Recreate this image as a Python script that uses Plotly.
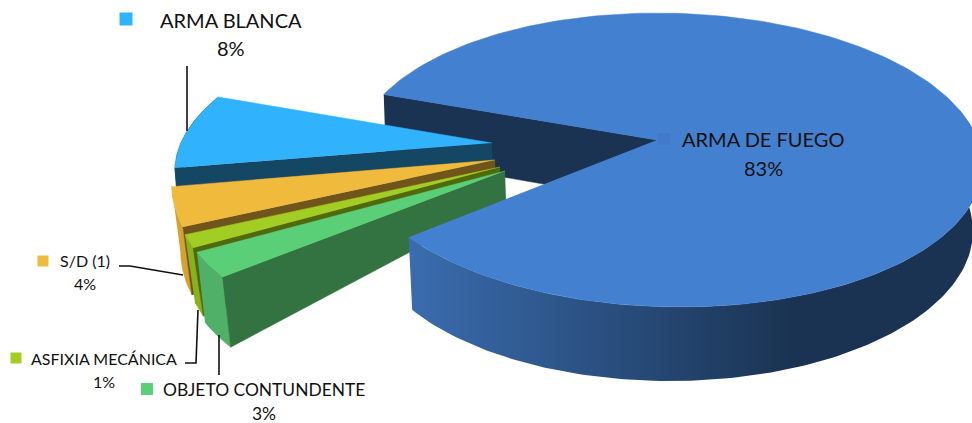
import numpy as np
import plotly.graph_objects as go

# ---- data ----
categories = ["ARMA DE FUEGO", "ARMA BLANCA", "S/D (1)", "ASFIXIA MECÁNICA", "OBJETO CONTUNDENTE"]
values = [83, 8, 4, 1, 3]

# ---- styles ----
top_colors = ["#4480d0", "#30b3fc", "#f0bb3c", "#a2cd22", "#5bcf78"]
rim_colors = ["#1a3352", "#134763", "#d5a131", "#8ab01c", "#50b068"]
inner_colors = ["#1a3352", "#134763", "#70551b", "#50690d", "#337341"]

# ---- projection of the pie (pixels of the 972x423 canvas) ----
W, H = 972, 423
RX = 313
START = 205.5
sweeps = [v / sum(values) * 360 for v in values]

# exploded wedge layout: apex, rim origin, ry, shear, rim depth offset, apex depth
layout_wedge = {
    "ARMA BLANCA": dict(apex=(492, 143), o=(489, 159), ry=144, s=-27, d=(2, 25), ad=30),
    "S/D (1)": dict(apex=(495, 160), o=(485, 175.6), ry=165, s=-15, d=(9, 68), ad=30),
    "ASFIXIA MECÁNICA": dict(apex=(500, 167), o=(475, 165), ry=224, s=24, d=(10, 68), ad=30),
    "OBJETO CONTUNDENTE": dict(apex=(505, 171), o=(491, 197.8), ry=147, s=-9, d=(8, 70), ad=30),
}


def rim(t0, t1, o, ry, s, rx=RX, n=60):
    t = np.radians(np.linspace(t0, t1, n))
    return o[0] + rx * np.cos(t) + s * np.sin(t), o[1] + ry * np.sin(t)


def poly(fig, x, y, color, **kw):
    fig.add_trace(go.Scatter(x=list(x), y=list(y), mode="lines", fill="toself", fillcolor=color,
                             line=dict(color=color, width=0.5), hoverinfo="skip", showlegend=False, **kw))


fig = go.Figure()

# main slice back wall
main_start = START + 1
main_end = main_start + sweeps[0]
apex_main = (657, 140)
c_top = (669, 160)
c_bot = (670, 231)
x0, y0 = rim(main_start, main_start, c_top, 147, 11.5, n=1)
poly(fig, [x0[0], apex_main[0], apex_main[0], x0[0] + 2], [y0[0], apex_main[1], apex_main[1] + 64, y0[0] + 62], inner_colors[0])

# exploded wedges
t = START
for i in range(1, len(categories)):
    name = categories[i]
    L = layout_wedge[name]
    t_hi, t_lo = t, t - sweeps[i]
    t = t_lo
    rx_, ry_ = rim(t_hi, t_lo, L["o"], L["ry"], L["s"])
    dx, dy = L["d"]
    ax, ay = L["apex"]
    # outer wall
    poly(fig, np.r_[rx_, (rx_ + dx)[::-1]], np.r_[ry_, (ry_ + dy)[::-1]], rim_colors[i])
    # inner wall
    poly(fig, [ax, rx_[-1], rx_[-1] + dx, ax + 1], [ay, ry_[-1], ry_[-1] + dy, ay + L["ad"]], inner_colors[i])
    # top
    poly(fig, np.r_[ax, rx_], np.r_[ay, ry_], top_colors[i])

# main outer wall with gradient
tx, ty = rim(main_end - 360, -20, c_top, 147, 11.5, n=120)
bx, by = rim(main_end - 360, -20, c_bot, 150, 0, rx=303, n=120)
fig.add_trace(go.Scatter(
    x=list(np.r_[tx, bx[::-1]]), y=list(np.r_[ty, by[::-1]]), mode="lines", fill="toself",
    line=dict(width=0, color="#1a3352"), hoverinfo="skip", showlegend=False,
    fillgradient=dict(type="horizontal", start=410, stop=792,
                      colorscale=[[0, "#3a6cae"], [1, "#1a3352"]]),
))

# main top
mx, my = rim(main_start, main_end, c_top, 147, 11.5, n=240)
poly(fig, np.r_[apex_main[0], mx], np.r_[apex_main[1], my], top_colors[0])

# leader lines
for lx, ly in [([187, 187], [66, 131]),
               ([119, 130, 183], [266, 266, 275]),
               ([185, 196, 198], [363, 363, 310]),
               ([219, 219], [335, 375])]:
    fig.add_trace(go.Scatter(x=lx, y=ly, mode="lines", line=dict(color="#111111", width=1.6),
                             hoverinfo="skip", showlegend=False))

# legend keys
keys = [(664, 139, "#427ac9", 12), (126, 19, top_colors[1], 13), (43, 261, top_colors[2], 11),
        (16, 358, top_colors[3], 11), (147, 389, top_colors[4], 12)]
for kx, ky, kc, ks in keys:
    fig.add_trace(go.Scatter(x=[kx], y=[ky], mode="markers", marker=dict(symbol="square", size=ks, color=kc, line=dict(width=0)),
                             hoverinfo="skip", showlegend=False))

# labels
label_pos = [(763, 139, 20), (231, 20, 20), (85, 260, 16), (104, 358, 16), (264, 389, 17.4)]
pct_pos = [(763, 168), (231, 48), (85, 283), (104, 381), (264, 413)]
for name, v, (lx, ly, fs), (px, py) in zip(categories, values, label_pos, pct_pos):
    fig.add_annotation(x=lx, y=ly, text=name, showarrow=False, font=dict(family="Lato", size=fs, color="#111111"), xanchor="center", yanchor="middle")
    fig.add_annotation(x=px, y=py, text=f"{v}%", showarrow=False, font=dict(family="Lato", size=fs, color="#111111"), xanchor="center", yanchor="middle")

fig.update_layout(width=W, height=H, margin=dict(l=0, r=0, t=0, b=0), paper_bgcolor="white", plot_bgcolor="white",
                  xaxis=dict(range=[0, W], visible=False, fixedrange=True),
                  yaxis=dict(range=[H, 0], visible=False, fixedrange=True),
                  showlegend=False)
fig.write_html("out.html", post_script="document.body.style.margin='0';", config={"displayModeBar": False})
